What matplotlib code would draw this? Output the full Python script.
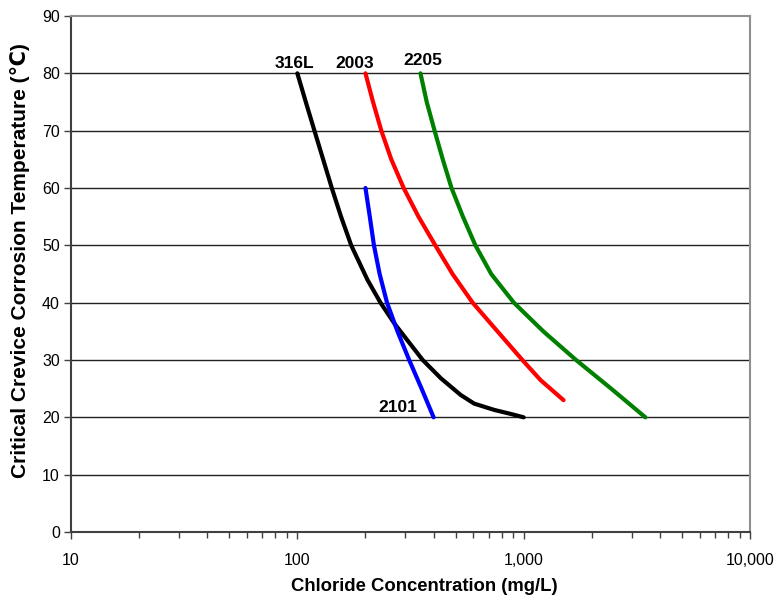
import matplotlib
matplotlib.use('Agg')
import matplotlib.pyplot as plt
from matplotlib.ticker import FuncFormatter, LogLocator, NullFormatter

plt.rcParams['font.family'] = ['Liberation Sans', 'DejaVu Sans']

# curves (chloride mg/L, temperature C)
x_316L = [100, 109, 119, 130, 142, 156, 173, 204, 233, 268, 358, 431, 527, 604, 740, 876, 1000]
y_316L = [80, 75, 70, 65, 60, 55, 50, 44, 40, 36.4, 30, 26.8, 23.9, 22.4, 21.3, 20.6, 20]
x_2003 = [200, 216, 235, 260, 295, 343, 407, 485, 595, 766, 987, 1187, 1500]
y_2003 = [80, 75, 70, 65, 60, 55, 50, 45, 40, 35, 30, 26.5, 23]
x_2205 = [350, 373, 404, 439, 480, 539, 612, 719, 905, 1221, 1704, 2436, 3450]
y_2205 = [80, 75, 70, 65, 60, 55, 50, 45, 40, 35, 30, 25, 20]
x_2101 = [200, 209, 218, 231, 249, 277, 312, 354, 400]
y_2101 = [60, 55, 50, 45, 40, 35, 30, 25, 20]

series = [('316L', x_316L, y_316L, 'black'),
          ('2003', x_2003, y_2003, 'red'),
          ('2205', x_2205, y_2205, 'green'),
          ('2101', x_2101, y_2101, 'blue')]

fig = plt.figure(figsize=(7.76, 6.04), dpi=100)
ax = fig.add_axes([0.0915, 0.1192, 0.875, 0.8543])

for yy in range(10, 90, 10):
    ax.axhline(yy, color='#222222', lw=1.0, zorder=1)

for name, xs, ys, c in series:
    ax.plot(xs, ys, color=c, lw=3, solid_capstyle='round', solid_joinstyle='round', zorder=3)

ax.set_xscale('log')
ax.set_xlim(10, 10000)
ax.set_ylim(0, 90)
ax.set_yticks(range(0, 100, 10))
ax.xaxis.set_major_locator(LogLocator(base=10))
ax.xaxis.set_minor_locator(LogLocator(base=10, subs=range(2, 10)))
ax.xaxis.set_minor_formatter(NullFormatter())
ax.xaxis.set_major_formatter(FuncFormatter(lambda v, p: '{:,.0f}'.format(v)))
ax.tick_params(axis='both', which='both', direction='out', color='#404040', labelsize=11.5, width=1)
ax.tick_params(axis='x', which='major', length=5, pad=10)
ax.tick_params(axis='x', which='minor', length=4)
ax.tick_params(axis='y', length=5, pad=3)

for s in ['left', 'bottom']:
    ax.spines[s].set_color('#404040')
    ax.spines[s].set_linewidth(1.5)
for s in ['top', 'right']:
    ax.spines[s].set_color('#909090')
    ax.spines[s].set_linewidth(1.5)

ax.text(97.6, 81.0, '316L', ha='center', va='baseline', fontsize=12.5, fontweight='bold')
ax.text(180, 81.0, '2003', ha='center', va='baseline', fontsize=12.5, fontweight='bold')
ax.text(358, 81.4, '2205', ha='center', va='baseline', fontsize=12.5, fontweight='bold')
ax.text(340, 20.9, '2101', ha='right', va='baseline', fontsize=12.5, fontweight='bold')

ax.set_xlabel('Chloride Concentration (mg/L)', fontsize=13.3, fontweight='bold')
ax.set_ylabel('Critical Crevice Corrosion Temperature (\u2103)', fontsize=15, fontweight='bold')
ax.xaxis.set_label_coords(0.521, -0.090)
ax.yaxis.set_label_coords(-0.060, 0.526)

fig.savefig('out.png', dpi=100)
